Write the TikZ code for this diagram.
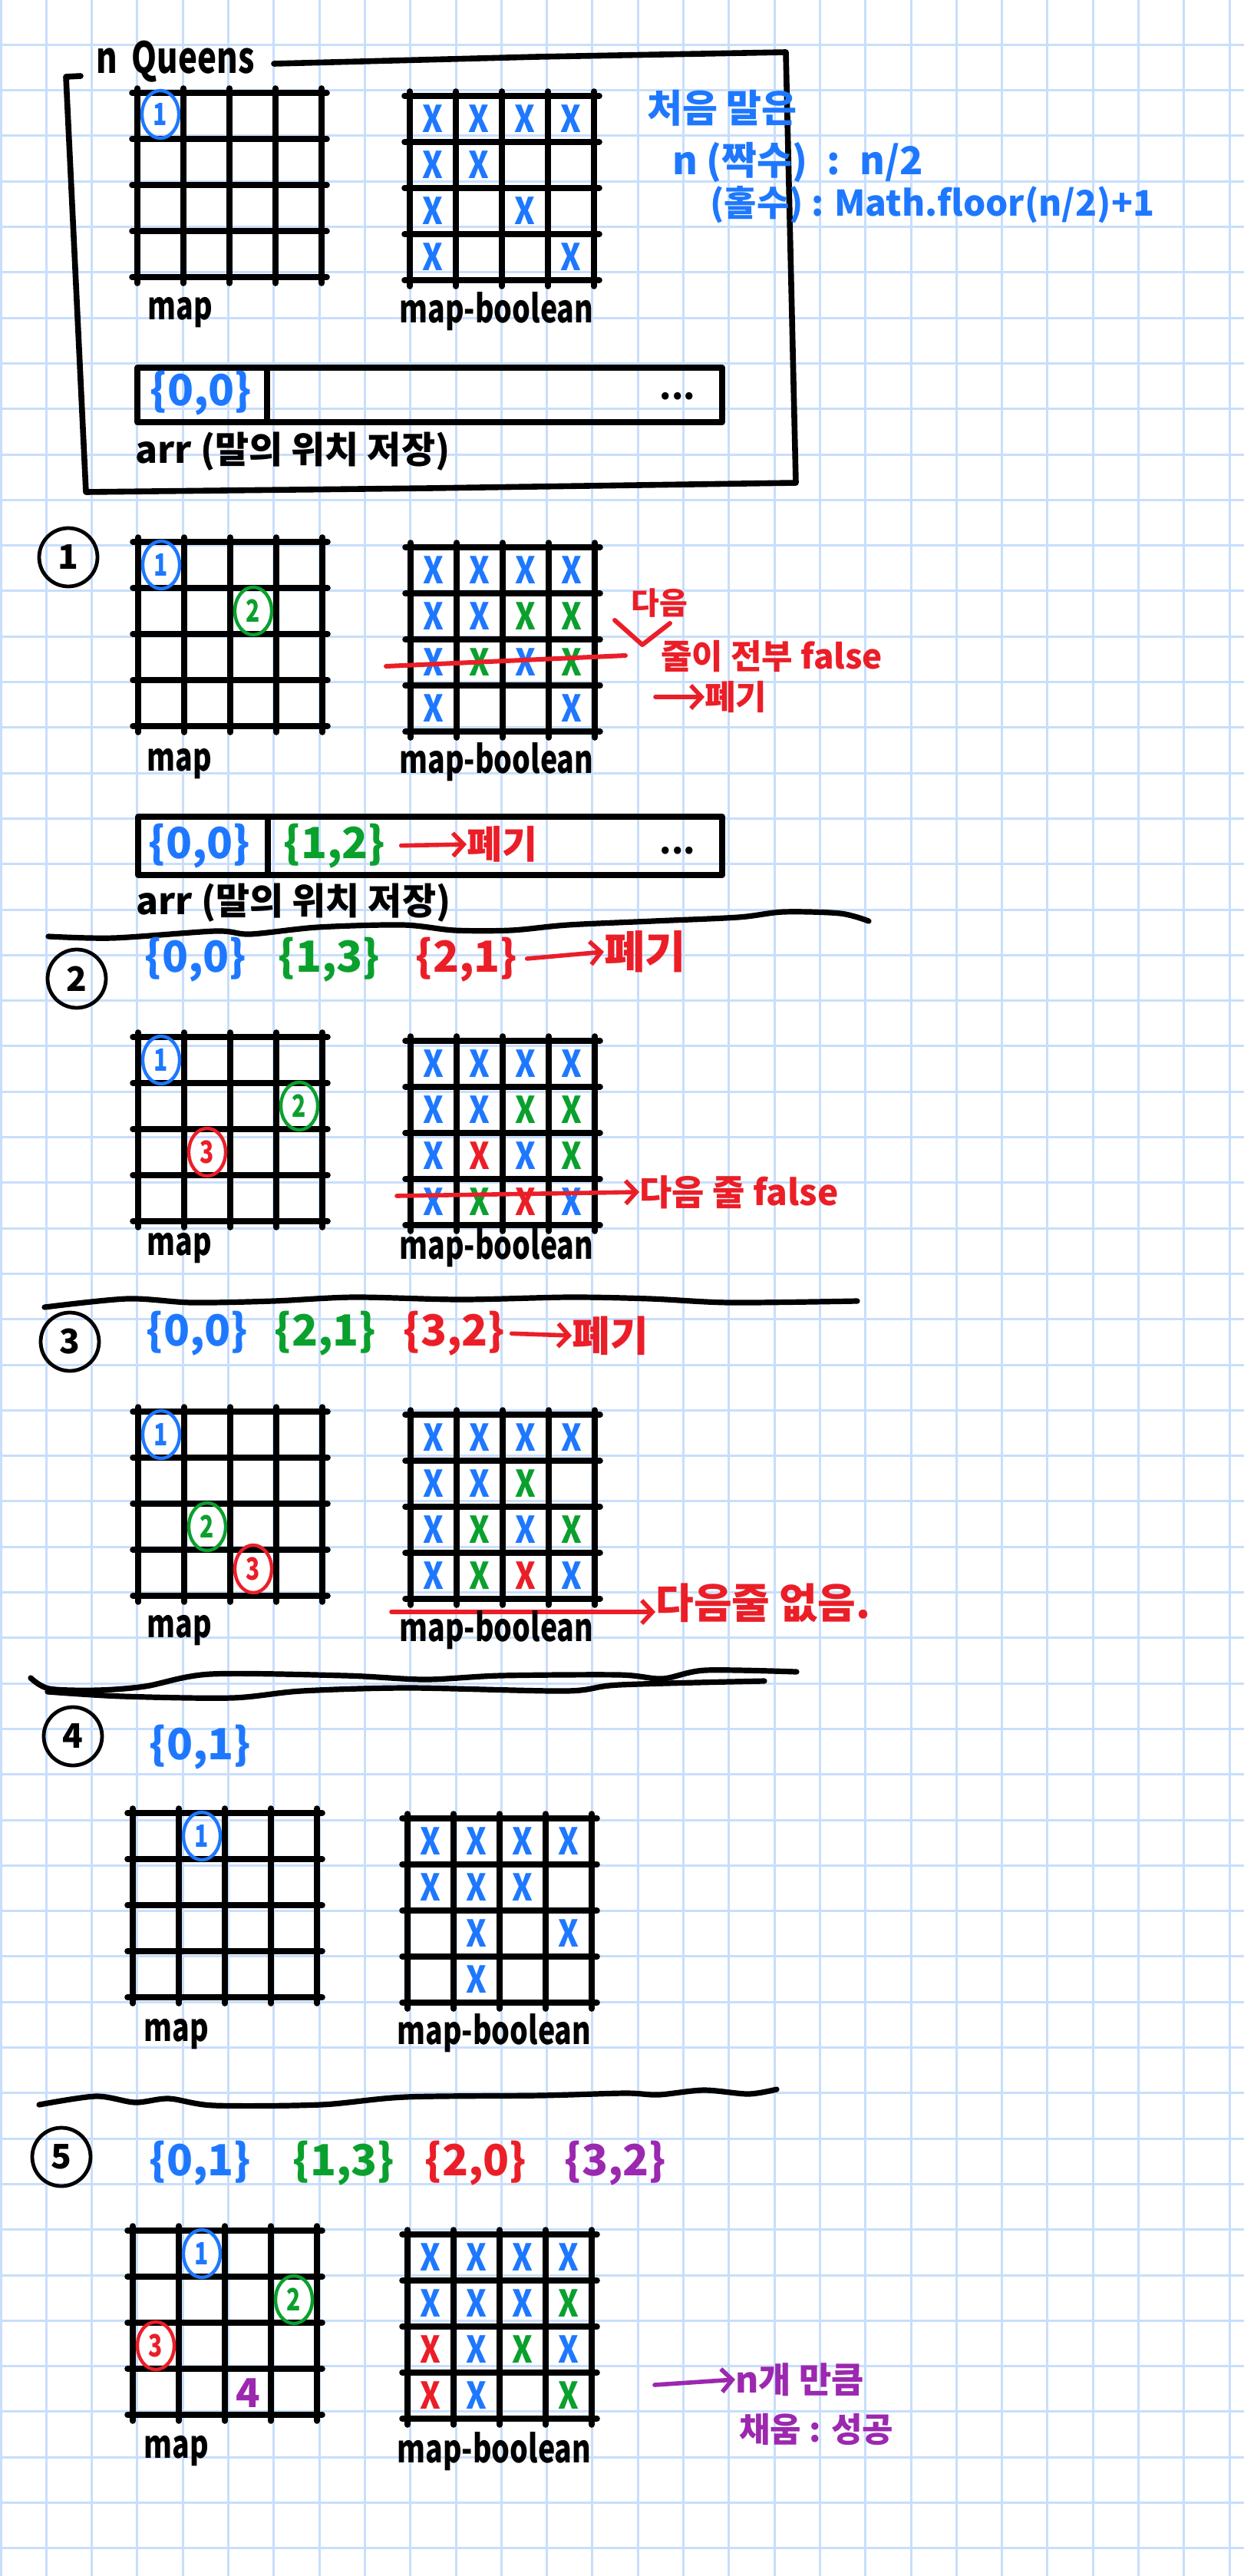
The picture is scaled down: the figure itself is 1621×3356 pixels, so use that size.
\documentclass[tikz,border=0pt]{standalone}
\usepackage{fontspec}
\setmainfont{Noto Sans CJK KR}
\definecolor{qblue}{RGB}{30, 120, 255}
\definecolor{qgreen}{RGB}{10, 160, 45}
\definecolor{qred}{RGB}{235, 30, 40}
\definecolor{qpurple}{RGB}{155, 40, 175}
\definecolor{paperblue}{RGB}{200, 222, 252}
\usetikzlibrary{shapes.geometric, arrows.meta, calc}
\newcommand{\handsize}[1]{\fontsize{#1}{#1}\selectfont}
\newcommand{\narrow}{\addfontfeatures{FakeStretch=0.75}}
% one 4x4 board, drawn at the origin of the current scope
\newcommand{\qlines}{%
  \foreach \k in {0,...,4} {
    \draw[pen] (60*\k,-6) -- (60*\k,248);
    \draw[pen] (-7,60*\k) -- (247,60*\k);
  }}
\tikzset{
  paper/.style={draw=paperblue, line width=1.5pt},
  pen/.style={line width=3.8pt, line cap=round, line join=round},
  ink/.style={inner sep=0pt, font=\bfseries\handsize{22}},
  boardname/.style={ink, anchor=base west, font=\bfseries\handsize{25}\narrow},
  cross/.style={inner sep=0pt, font=\bfseries\handsize{24}\addfontfeatures{FakeStretch=0.85}},
  piece/.style={ellipse, draw, line width=2.2pt, minimum width=24pt, minimum height=31pt, inner sep=0pt, font=\bfseries\handsize{20}\narrow},
  stepnum/.style={circle, draw=black, line width=2.4pt, minimum size=38pt, inner sep=0pt, font=\bfseries\handsize{22}},
  barb/.style={-{Straight Barb[length=7pt, width=15pt]}, line width=2.8pt, line cap=round, line join=round},
  pair/.style={ink, font=\bfseries\handsize{28}},
  rough/.style={pen, line width=3.6pt, smooth, tension=0.5}
}

\begin{document}
\begin{tikzpicture}[x=0.5pt, y=-0.5pt]
  \useasboundingbox (0,0) rectangle (1621,3356);
  \fill[white] (0,0) rectangle (1621,3356);
  % paper grid
  \foreach \k in {0,...,27} \draw[paper] (1+59.3*\k,0) -- (1+59.3*\k,3356);
  \foreach \k in {1,...,57} \draw[paper] (0,-1+59.3*\k) -- (1621,-1+59.3*\k);

  % Intro: n Queens
  \node[ink, anchor=west, font=\bfseries\handsize{28}\narrow] (title) at (125,80) {n\, Queens};
  \draw[pen] (357,83) -- (700,74) -- (1024,68) -- (1037,629) -- (560,636) -- (112,641) -- (86,100) -- (105,99);
  \begin{scope}[shift={(179,121)}]
    \qlines
    \node[piece, draw=qblue, text=qblue] (p0a) at (30,28) {1};
  \end{scope}
  \begin{scope}[shift={(534,125)}]
    \qlines
    \foreach \cx/\ry/\hue [count=\n] in {0/0/qblue,1/0/qblue,2/0/qblue,3/0/qblue,0/1/qblue,1/1/qblue,0/2/qblue,2/2/qblue,0/3/qblue,3/3/qblue}
      \node[cross, text=\hue] (x0-\n) at (30+60*\cx,30+60*\ry) {X};
  \end{scope}
  \node[boardname] (map0) at (192,416) {map};
  \node[boardname] (bool0) at (520,420) {map-boolean};
  \draw[pen] (179,479) rectangle (941,550);
  \draw[pen] (348,479) -- (348,550);
  \node[pair, text=qblue] (arr0a) at (262,512) {\{0,0\}};
  \node[ink, anchor=base] (arr0dots) at (883,520) {...};
  \node[ink, anchor=west, font=\bfseries\handsize{24}] (arr0) at (176,588) {arr (말의 위치 저장)};
  \node[ink, anchor=west, text=qblue, font=\bfseries\handsize{25}] (note1) at (843,141) {처음 말은};
  \node[ink, anchor=west, text=qblue, font=\bfseries\handsize{25}] (note2) at (876,212) {n (짝수)\enspace:\enspace n/2};
  \node[ink, anchor=west, text=qblue, font=\bfseries\handsize{23}] (note3) at (925,267) {(홀수) : Math.floor(n/2)+1};

  % Step 1
  \node[stepnum] (step1) at (89,726) {1};
  \begin{scope}[shift={(180,706)}]
    \qlines
    \node[piece, draw=qblue, text=qblue] (p1a) at (30,30) {1};
    \node[piece, draw=qgreen, text=qgreen] (p1b) at (150,90) {2};
  \end{scope}
  \begin{scope}[shift={(535,713)}]
    \qlines
    \foreach \cx/\ry/\hue [count=\n] in {0/0/qblue,1/0/qblue,2/0/qblue,3/0/qblue,0/1/qblue,1/1/qblue,2/1/qgreen,3/1/qgreen,0/2/qblue,1/2/qgreen,2/2/qblue,3/2/qgreen,0/3/qblue,3/3/qblue}
      \node[cross, text=\hue] (x1-\n) at (30+60*\cx,30+60*\ry) {X};
  \end{scope}
  \coordinate (cut1a) at (503,868);
  \coordinate (cut1b) at (815,854);
  \draw[qred, line width=3pt, line cap=round] (cut1a) -- (cut1b);
  \node[ink, text=qred, font=\bfseries\handsize{20}] (next1) at (859,786) {다음};
  \draw[qred, line width=3pt, line cap=round, line join=round] (801,808) -- (837,840) -- (873,812);
  \node[ink, anchor=west, text=qred, font=\bfseries\handsize{22}] (false1) at (861,855) {줄이 전부 false};
  \coordinate (drop1a) at (854,908);
  \node[ink, anchor=west, text=qred, font=\bfseries\handsize{22}] (drop1) at (918,908) {폐기};
  \draw[barb, qred] (drop1a) -- (drop1.west);
  \node[boardname] (map1) at (191,1004) {map};
  \node[boardname] (bool1) at (520,1007) {map-boolean};
  \draw[pen] (180,1064) rectangle (941,1140);
  \draw[pen] (349,1064) -- (349,1140);
  \node[pair, text=qblue] (arr1a) at (260,1102) {\{0,0\}};
  \node[pair, text=qgreen] (arr1b) at (436,1102) {\{1,2\}};
  \node[ink, anchor=west, text=qred, font=\bfseries\handsize{25}] (arr1drop) at (608,1100) {폐기};
  \draw[barb, qred, shorten <=10pt] (arr1b.east) -- (arr1drop.west);
  \node[ink, anchor=base] (arr1dots) at (883,1112) {...};
  \node[ink, anchor=west, font=\bfseries\handsize{24}] (arr1) at (177,1176) {arr (말의 위치 저장)};
  \draw[rough] plot coordinates {(63,1220) (148,1222) (281,1213) (326,1217) (414,1208) (525,1205) (592,1212) (666,1212) (740,1205) (851,1200) (962,1195) (1021,1188) (1095,1190) (1132,1200)};

  % Step 2
  \node[stepnum] (step2) at (100,1275) {2};
  \node[pair, text=qblue] (s2a) at (255,1250) {\{0,0\}};
  \node[pair, text=qgreen] (s2b) at (429,1250) {\{1,3\}};
  \node[pair, text=qred] (s2c) at (608,1250) {\{2,1\}};
  \node[ink, anchor=west, text=qred, font=\bfseries\handsize{29}] (s2drop) at (787,1240) {폐기};
  \draw[barb, qred, shorten <=6pt] (s2c.east) -- (s2drop.west);
  \begin{scope}[shift={(180,1351)}]
    \qlines
    \node[piece, draw=qblue, text=qblue] (p2a) at (30,30) {1};
    \node[piece, draw=qgreen, text=qgreen] (p2b) at (210,90) {2};
    \node[piece, draw=qred, text=qred] (p2c) at (90,150) {3};
  \end{scope}
  \begin{scope}[shift={(535,1356)}]
    \qlines
    \foreach \cx/\ry/\hue [count=\n] in {0/0/qblue,1/0/qblue,2/0/qblue,3/0/qblue,0/1/qblue,1/1/qblue,2/1/qgreen,3/1/qgreen,0/2/qblue,1/2/qred,2/2/qblue,3/2/qgreen,0/3/qblue,1/3/qgreen,2/3/qred,3/3/qblue}
      \node[cross, text=\hue] (x2-\n) at (30+60*\cx,30+60*\ry) {X};
  \end{scope}
  \coordinate (cut2) at (517,1558);
  \node[ink, anchor=west, text=qred, font=\bfseries\handsize{23}] (false2) at (833,1553) {다음 줄 false};
  \draw[barb, qred] (cut2) -- (false2.west);
  \node[boardname] (map2) at (191,1635) {map};
  \node[boardname] (bool2) at (520,1640) {map-boolean};
  \draw[rough] plot coordinates {(58,1703) (166,1692) (250,1697) (356,1695) (461,1690) (601,1693) (742,1690) (847,1692) (952,1697) (1117,1695)};

  % Step 3
  \node[stepnum] (step3) at (91,1748) {3};
  \node[pair, text=qblue] (s3a) at (257,1737) {\{0,0\}};
  \node[pair, text=qgreen] (s3b) at (424,1737) {\{2,1\}};
  \node[pair, text=qred] (s3c) at (592,1737) {\{3,2\}};
  \node[ink, anchor=west, text=qred, font=\bfseries\handsize{27}] (s3drop) at (745,1740) {폐기};
  \draw[barb, qred, shorten <=4pt] (s3c.east) -- (s3drop.west);
  \begin{scope}[shift={(180,1839)}]
    \qlines
    \node[piece, draw=qblue, text=qblue] (p3a) at (30,30) {1};
    \node[piece, draw=qgreen, text=qgreen] (p3b) at (90,150) {2};
    \node[piece, draw=qred, text=qred] (p3c) at (150,205) {3};
  \end{scope}
  \begin{scope}[shift={(535,1843)}]
    \qlines
    \foreach \cx/\ry/\hue [count=\n] in {0/0/qblue,1/0/qblue,2/0/qblue,3/0/qblue,0/1/qblue,1/1/qblue,2/1/qgreen,0/2/qblue,1/2/qgreen,2/2/qblue,3/2/qgreen,0/3/qblue,1/3/qgreen,2/3/qred,3/3/qblue}
      \node[cross, text=\hue] (x3-\n) at (30+60*\cx,30+60*\ry) {X};
  \end{scope}
  \coordinate (cut3) at (510,2100);
  \node[ink, anchor=west, text=qred, font=\bfseries\handsize{27}] (gone3) at (854,2088) {다음줄 없음.};
  \draw[barb, qred] (cut3) -- (cut3 -| gone3.west);
  \node[boardname] (map3) at (191,2133) {map};
  \node[boardname] (bool3) at (520,2138) {map-boolean};
  \draw[rough] plot coordinates {(40,2186) (64,2200) (126,2202) (189,2197) (274,2181) (450,2183) (554,2188) (652,2183) (807,2182) (863,2187) (919,2176) (1038,2178)};
  \draw[rough] plot coordinates {(62,2204) (160,2210) (302,2212) (393,2203) (533,2199) (737,2203) (807,2195) (996,2190)};

  % Step 4
  \node[stepnum] (step4) at (95,2262) {4};
  \node[pair, text=qblue] (s4a) at (261,2276) {\{0,1\}};
  \begin{scope}[shift={(173,2362)}]
    \qlines
    \node[piece, draw=qblue, text=qblue] (p4a) at (90,30) {1};
  \end{scope}
  \begin{scope}[shift={(531,2369)}]
    \qlines
    \foreach \cx/\ry/\hue [count=\n] in {0/0/qblue,1/0/qblue,2/0/qblue,3/0/qblue,0/1/qblue,1/1/qblue,2/1/qblue,1/2/qblue,3/2/qblue,1/3/qblue}
      \node[cross, text=\hue] (x4-\n) at (30+60*\cx,30+60*\ry) {X};
  \end{scope}
  \node[boardname] (map4) at (187,2659) {map};
  \node[boardname] (bool4) at (517,2663) {map-boolean};
  \draw[rough] plot coordinates {(51,2742) (125,2731) (176,2739) (220,2734) (279,2743) (418,2742) (528,2732) (704,2730) (814,2727) (858,2729) (917,2723) (975,2728) (1012,2722)};

  % Step 5
  \node[stepnum] (step5) at (80,2810) {5};
  \node[pair, text=qblue] (s5a) at (261,2818) {\{0,1\}};
  \node[pair, text=qgreen] (s5b) at (448,2818) {\{1,3\}};
  \node[pair, text=qred] (s5c) at (620,2818) {\{2,0\}};
  \node[pair, text=qpurple] (s5d) at (802,2818) {\{3,2\}};
  \begin{scope}[shift={(173,2906)}]
    \qlines
    \node[piece, draw=qblue, text=qblue] (p5a) at (90,30) {1};
    \node[piece, draw=qgreen, text=qgreen] (p5b) at (210,90) {2};
    \node[piece, draw=qred, text=qred] (p5c) at (30,150) {3};
    \node[ink, text=qpurple, font=\bfseries\handsize{26}] (p5d) at (150,212) {4};
  \end{scope}
  \begin{scope}[shift={(531,2911)}]
    \qlines
    \foreach \cx/\ry/\hue [count=\n] in {0/0/qblue,1/0/qblue,2/0/qblue,3/0/qblue,0/1/qblue,1/1/qblue,2/1/qblue,3/1/qgreen,0/2/qred,1/2/qblue,2/2/qgreen,3/2/qblue,0/3/qred,1/3/qblue,3/3/qgreen}
      \node[cross, text=\hue] (x5-\n) at (30+60*\cx,30+60*\ry) {X};
  \end{scope}
  \coordinate (done5) at (853,3107);
  \node[ink, anchor=west, text=qpurple, font=\bfseries\handsize{23}] (full5) at (958,3100) {n개 만큼};
  \node[ink, anchor=west, text=qpurple, font=\bfseries\handsize{22}] (win5) at (963,3165) {채움 : 성공};
  \draw[barb, qpurple] (done5) -- (full5.west);
  \node[boardname] (map5) at (187,3202) {map};
  \node[boardname] (bool5) at (517,3208) {map-boolean};
\end{tikzpicture}
\end{document}
